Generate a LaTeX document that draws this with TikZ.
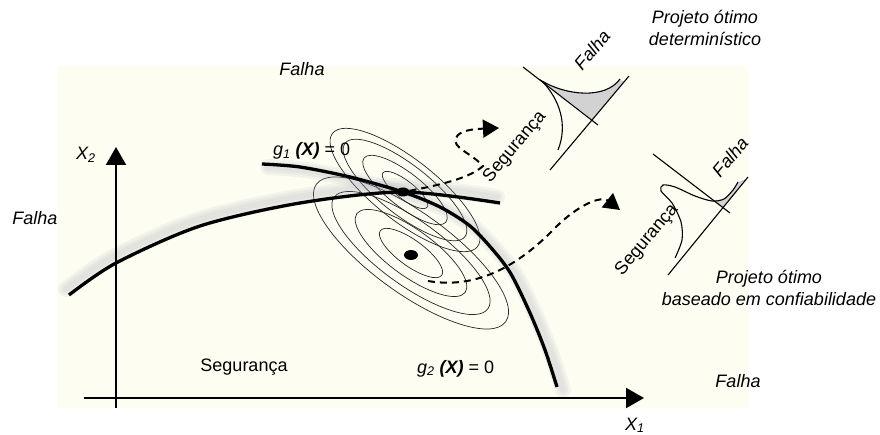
\documentclass[tikz,border=0pt]{standalone}
\usepackage{fontspec}
\setmainfont{Liberation Sans}
\usetikzlibrary{arrows.meta,shapes.geometric}
\definecolor{cream}{RGB}{253,253,242}
\definecolor{pdfgray}{RGB}{210,210,210}
\definecolor{glowc}{RGB}{150,150,170}
\begin{document}
\begin{tikzpicture}[x=1pt,y=-1pt,
 lbl/.style={font=\fontsize{18}{22}\selectfont, inner sep=0pt},
 ilbl/.style={font=\fontsize{18}{22}\selectfont\itshape, inner sep=0pt},
 axis/.style={line width=2pt, -{Triangle[width=20pt,length=18pt]}},
 bnd/.style={line width=3.3pt},
 glow/.style={line width=#1, draw=glowc, draw opacity=0.09, line cap=round},
 contour/.style={line width=0.7pt, draw=black!85},
 darr/.style={line width=2pt, dash pattern=on 7pt off 5pt, -{Triangle[width=18pt,length=16pt]}},
 insetline/.style={line width=1.1pt},
 dotn/.style={ellipse, fill=black, inner sep=0pt}
]
\useasboundingbox (0,0) rectangle (880,435);
\fill[cream] (57,66) rectangle (749,408);

% contours
\foreach \a/\b in {28/9,52/17,76/25,92/31}{
  \draw[contour, rotate around={-38:(405,190)}] (405,190) ellipse [x radius=\a pt, y radius=\b pt];
}
\foreach \a/\b in {38/13,67/23,95/32,117/40}{
  \draw[contour, rotate around={-36:(411,253)}] (411,253) ellipse [x radius=\a pt, y radius=\b pt];
}

% glows
\foreach \w in {16,11,6}{
  \draw[glow=\w pt, shift={(6,3)}] plot[smooth] coordinates {(262,164) (300,167) (350,177) (403,192) (440,207) (470,226) (493,250) (511,274) (530,313) (545,350) (557,387)};
  \draw[glow=\w pt, shift={(-3,-6)}] plot[smooth] coordinates {(69,295) (116,263) (200,226) (300,203) (403,192) (500,203)};
}
% limit state curves
\draw[bnd] plot[smooth] coordinates {(262,164) (300,167) (350,177) (403,192) (440,207) (470,226) (493,250) (511,274) (530,313) (545,350) (557,387)};
\draw[bnd] plot[smooth] coordinates {(69,295) (116,263) (200,226) (300,203) (403,192) (500,203)};

% axes
\coordinate (o2) at (116,408); \coordinate (y2) at (116,147);
\coordinate (o1) at (84,398); \coordinate (x1e) at (644,398);
\draw[axis] (o2) -- (y2);
\draw[axis] (o1) -- (x1e);

% design points
\node[dotn, minimum width=13pt, minimum height=9pt] (dU) at (403,192) {};
\node[dotn, minimum width=14pt, minimum height=10pt] (dL) at (411,255) {};

% dashed arrows
\coordinate (t1) at (499,128);
\draw[darr] (dU) .. controls (440,185) and (470,178) .. (483,166) .. controls (470,152) and (452,148) .. (456,138) .. controls (459,130) and (475,129) .. (t1);
\coordinate (s2) at (428,281);
\coordinate (t2) at (620,210);
\draw[darr] (s2) .. controls (480,290) and (522,262) .. (555,228) .. controls (580,203) and (602,196) .. (t2);

% upper inset (deterministic)
\coordinate (u1a) at (523,67); \coordinate (u1b) at (598,125);
\coordinate (u2a) at (550,170); \coordinate (u2b) at (629,76);
\fill[pdfgray] (542,81) .. controls (565,95) and (605,100) .. (620,79) -- (624,82) -- (592,119) -- cycle;
\draw[insetline] (u1a) -- (u1b);
\draw[insetline] (u2a) -- (u2b);
\draw[insetline] (558,150) .. controls (568,125) and (560,100) .. (542,81) .. controls (565,95) and (605,100) .. (620,79);

% lower inset (reliability based)
\coordinate (l1a) at (653,154); \coordinate (l1b) at (730,213);
\coordinate (l2a) at (668,275); \coordinate (l2b) at (748,177);
\fill[pdfgray] (712.5,200.5) -- (723,207.6) -- (746,179) -- (738,182) -- (733,190) -- (724,199) -- cycle;
\draw[insetline] (l1a) -- (l1b);
\draw[insetline] (l2a) -- (l2b);
\draw[insetline] plot[smooth] coordinates {(675,258) (682,240) (681,222) (672,203) (661,191) (663,185) (675,187) (695,196) (712,201) (724,199) (733,190) (738,182)};

% labels
\node[ilbl, anchor=base] (fTop) at (302,76) {Falha};
\node[ilbl, anchor=base] (fLeft) at (35,225) {Falha};
\node[ilbl, anchor=base] (fRight) at (738,387) {Falha};
\node[lbl, anchor=base] (sMain) at (244,371) {Segurança};
\node[ilbl, anchor=base west] (x2) at (76,160) {X\textsubscript{2}};
\node[ilbl, anchor=base west] (x1) at (625,430) {X\textsubscript{1}};
\node[lbl, anchor=base west] (g1) at (273,156) {\textit{g\textsubscript{1}} \textbf{\textit{(X)}} = 0};
\node[lbl, anchor=base west] (g2) at (417,373) {\textit{g\textsubscript{2}} \textbf{\textit{(X)}} = 0};
\node[ilbl, align=center] (pt1) at (705,28) {Projeto ótimo\\determinístico};
\node[ilbl, align=center] (pt2) at (769,288) {Projeto ótimo\\baseado em confiabilidade};
\node[lbl, rotate=50] (sU) at (515,147) {Segurança};
\node[ilbl, rotate=50] (fU) at (592,50) {Falha};
\node[lbl, rotate=50] (sL) at (647,240) {Segurança};
\node[ilbl, rotate=50] (fL) at (730,157) {Falha};
\end{tikzpicture}
\end{document}
